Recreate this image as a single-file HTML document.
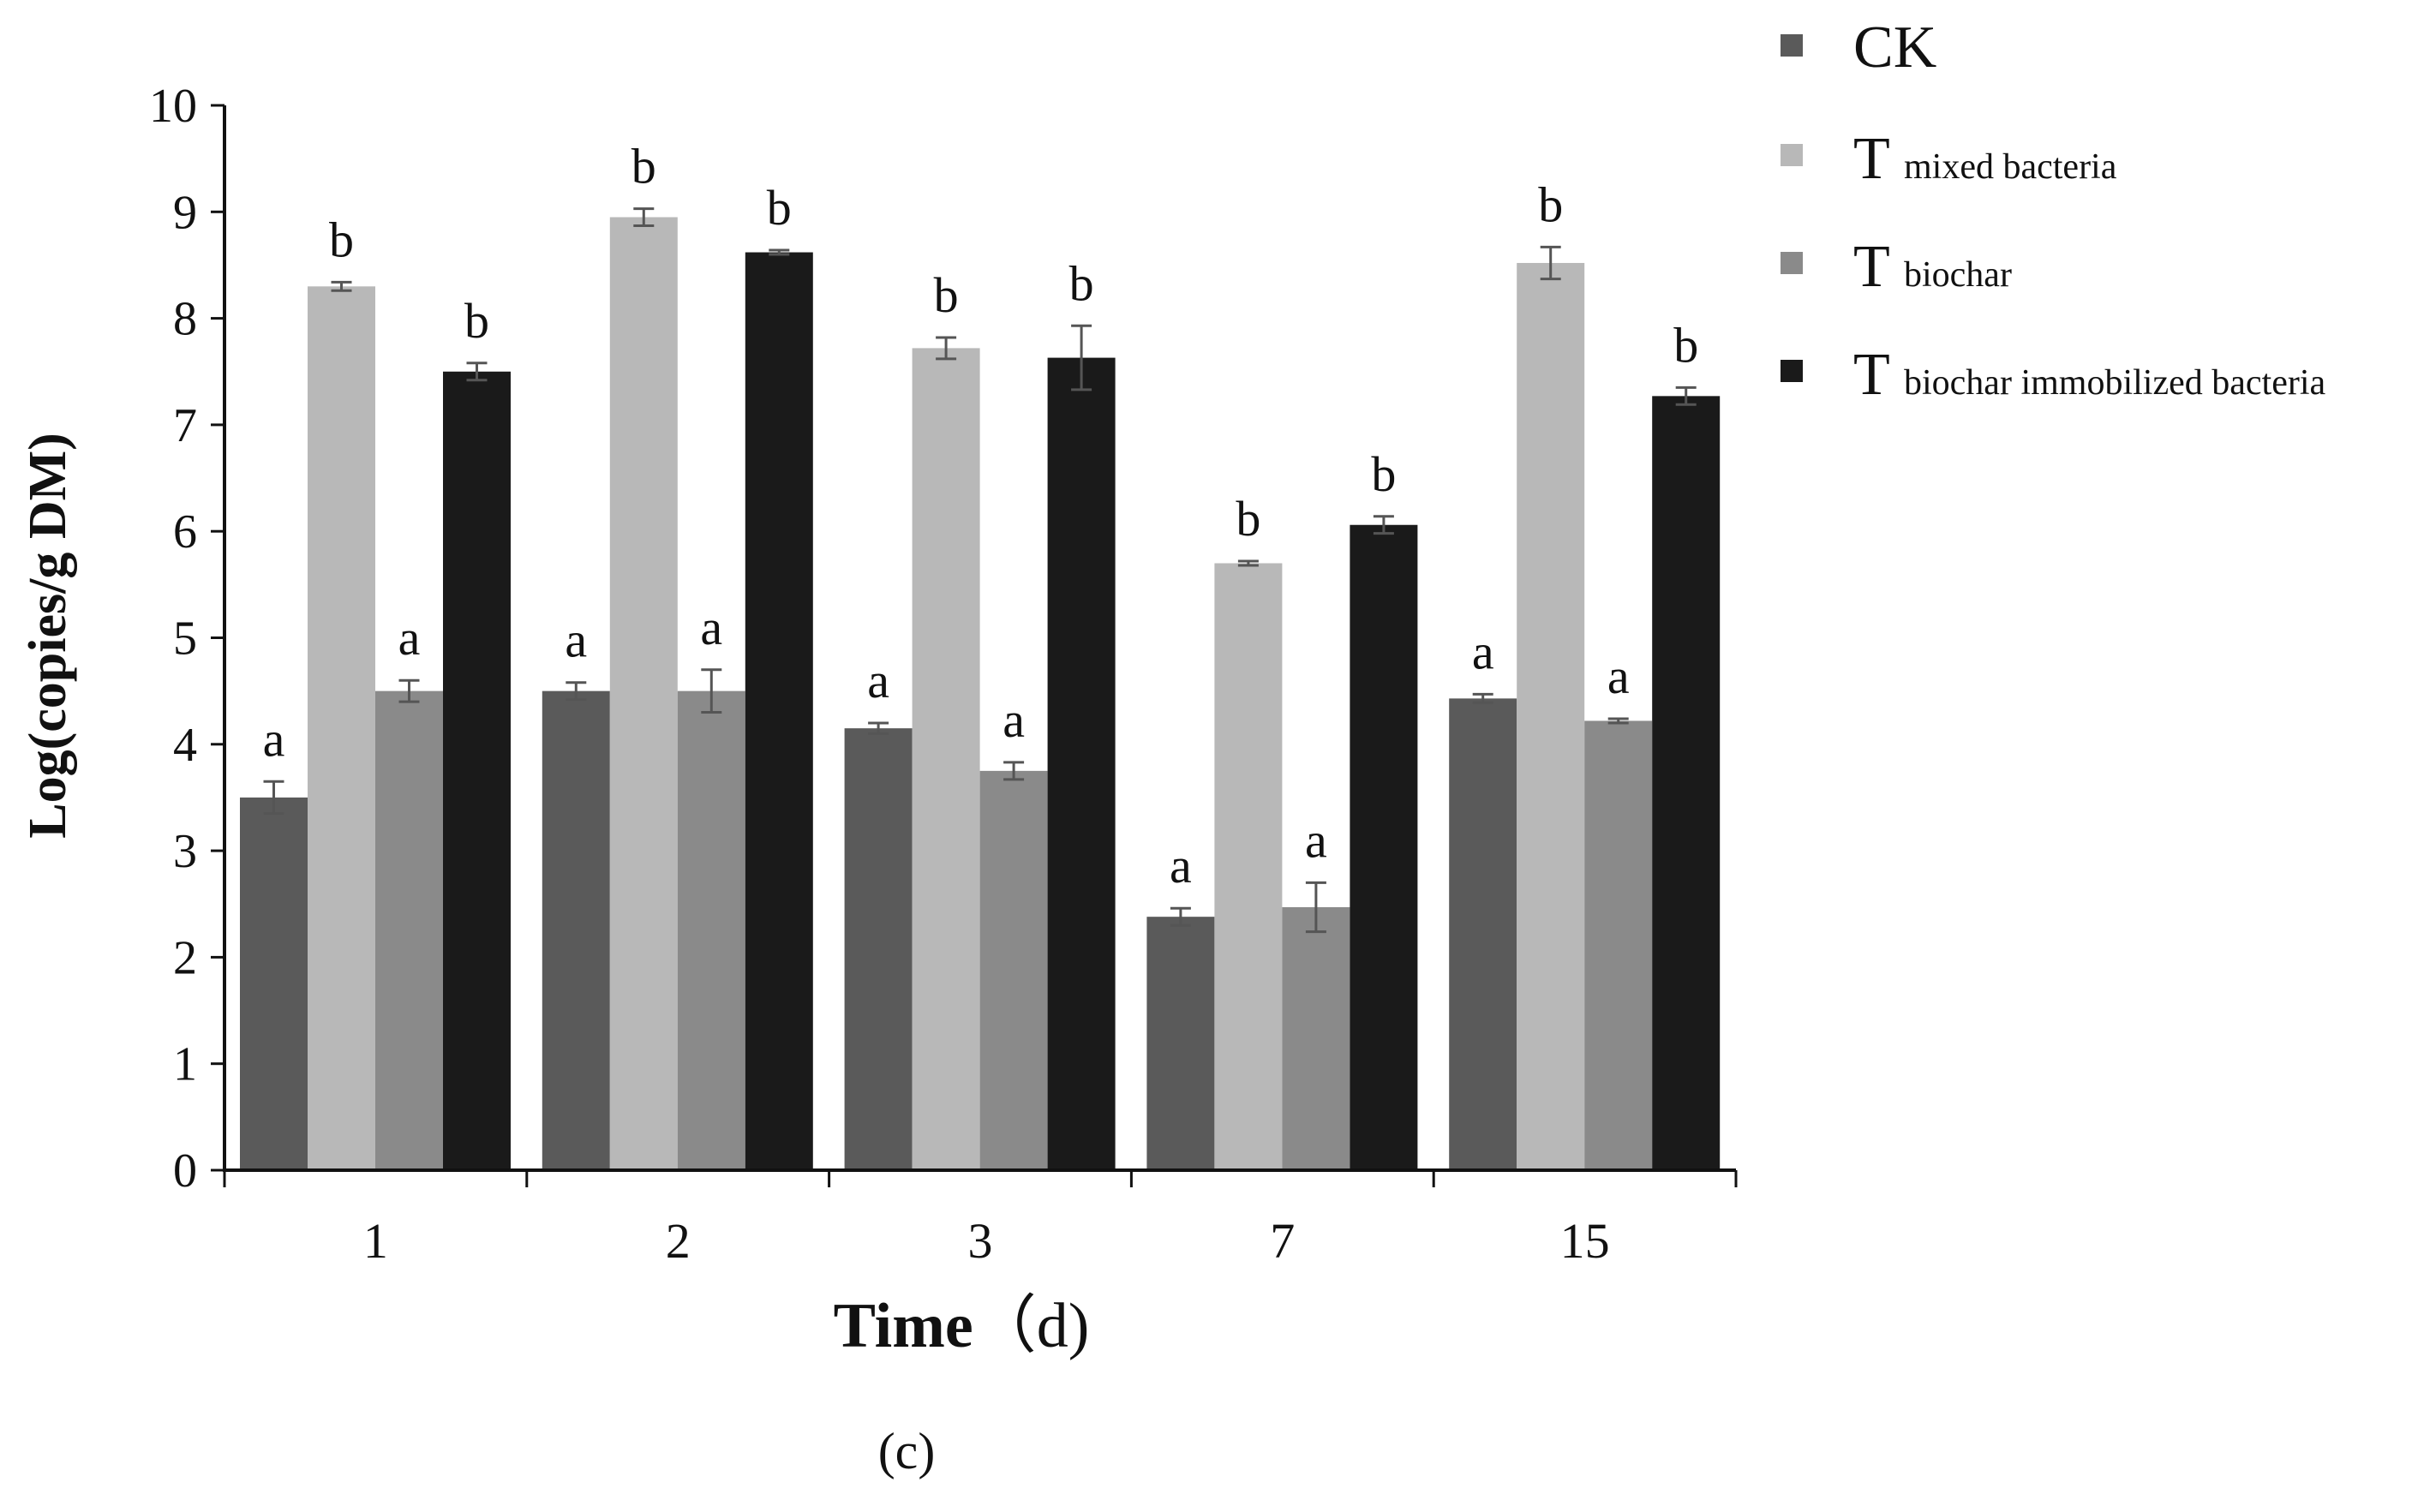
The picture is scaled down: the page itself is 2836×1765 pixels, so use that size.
<!DOCTYPE html>
<html><head><meta charset="utf-8"><style>
html,body{margin:0;padding:0;background:#fff;}
svg{display:block;font-family:"Liberation Serif",serif;}
</style></head><body>
<svg id="chart" width="2836" height="1765" viewBox="0 0 2836 1765" xmlns="http://www.w3.org/2000/svg">
<rect width="2836" height="1765" fill="#fff"/>
<g id="plot"></g>
<text transform="translate(76,742) rotate(-90)" text-anchor="middle" font-size="62" font-weight="bold" fill="#111">Log(copies/g DM)</text>
<text x="1122" y="1572" text-anchor="middle" font-size="74" fill="#111"><tspan font-weight="bold">Time</tspan>（d)</text>
<text x="1058" y="1714" text-anchor="middle" font-size="60" fill="#111">(c)</text>
<g>
 <rect x="2078" y="40" width="26" height="26" fill="#5a5a5a"/>
 <text x="2163" y="78" font-size="70" fill="#111">CK</text>
 <rect x="2078" y="168" width="26" height="26" fill="#b8b8b8"/>
 <text x="2163" y="208" font-size="70" fill="#111">T <tspan font-size="42">mixed bacteria</tspan></text>
 <rect x="2078" y="294" width="26" height="26" fill="#8a8a8a"/>
 <text x="2163" y="334" font-size="70" fill="#111">T <tspan font-size="42">biochar</tspan></text>
 <rect x="2078" y="420" width="26" height="26" fill="#1a1a1a"/>
 <text x="2163" y="460" font-size="70" fill="#111">T <tspan font-size="42">biochar immobilized bacteria</tspan></text>
</g>
</svg>
<script>
const categories = ["1","2","3","7","15"];
const ckValues = [3.5, 4.5, 4.15, 2.38, 4.43];
const mixedValues = [8.3, 8.95, 7.72, 5.7, 8.52];
const biocharValues = [4.5, 4.5, 3.75, 2.47, 4.22];
const immobValues = [7.5, 8.62, 7.63, 6.06, 7.27];
const ckErr = [0.15, 0.08, 0.05, 0.08, 0.04];
const mixedErr = [0.04, 0.08, 0.1, 0.02, 0.15];
const biocharErr = [0.1, 0.2, 0.08, 0.23, 0.02];
const immobErr = [0.08, 0.02, 0.3, 0.08, 0.08];
const letters = ["a","b","a","b"];
const yTicks = [0,1,2,3,4,5,6,7,8,9,10];

const NS = "http://www.w3.org/2000/svg";
const g = document.getElementById('plot');
const X0 = 262, X1 = 2026, Y0 = 1366, Y10 = 123;
const groupW = (X1 - X0) / categories.length;
const barW = 79, groupPad = 18;
function yS(v){ return Y0 - (v/10)*(Y0-Y10); }
function xBar(gi, si){ return X0 + gi*groupW + groupPad + si*barW; }
function mk(tag, attrs){ const e=document.createElementNS(NS,tag); for(const k in attrs) e.setAttribute(k,attrs[k]); g.appendChild(e); return e; }

const series = [
 {name:'ck', vals:ckValues, err:ckErr, color:'#5a5a5a'},
 {name:'mixed', vals:mixedValues, err:mixedErr, color:'#b8b8b8'},
 {name:'biochar', vals:biocharValues, err:biocharErr, color:'#8a8a8a'},
 {name:'immobilized', vals:immobValues, err:immobErr, color:'#1a1a1a'}
];

series.forEach((s, si) => {
  s.vals.forEach((v, gi) => {
    const x = xBar(gi, si);
    const r = mk('rect', {x:x, y:yS(v), width:barW, height:Y0-yS(v), fill:s.color});
    
    
    const cx = x + barW/2, e = s.err[gi];
    const eb = mk('path', {d:`M${cx},${yS(v+e)}V${yS(v-e)}M${cx-12},${yS(v+e)}H${cx+12}M${cx-12},${yS(v-e)}H${cx+12}`, stroke:'#555', 'stroke-width':3, fill:'none'});
    
    
    const t = mk('text', {x:cx, y:yS(v+e)-30, 'text-anchor':'middle', 'font-size':58, fill:'#111'});
    t.textContent = letters[si];
    
    
  });
});

const ax = mk('path', {d:`M${X0},${Y10}V${Y0}H${X1}`, stroke:'#111', 'stroke-width':4, fill:'none'});


yTicks.forEach(t => {
  const y = yS(t);
  const tk = mk('path', {d:`M${X0-16},${y}H${X0}`, stroke:'#111', 'stroke-width':3});
  
  
  const lb = mk('text', {x:X0-32, y:y+19, 'text-anchor':'end', 'font-size':56, fill:'#111'});
  lb.textContent = t;
  
  
});
for (let i=0;i<=categories.length;i++){
  const x = X0 + i*groupW;
  const tk = mk('path', {d:`M${x},${Y0}V${Y0+20}`, stroke:'#111', 'stroke-width':3});
  
  
}
categories.forEach((c, i) => {
  const lb = mk('text', {x:X0 + (i+0.5)*groupW, y:Y0+102, 'text-anchor':'middle', 'font-size':58, fill:'#111'});
  lb.textContent = c;
  
  
});
</script>
</body></html>
